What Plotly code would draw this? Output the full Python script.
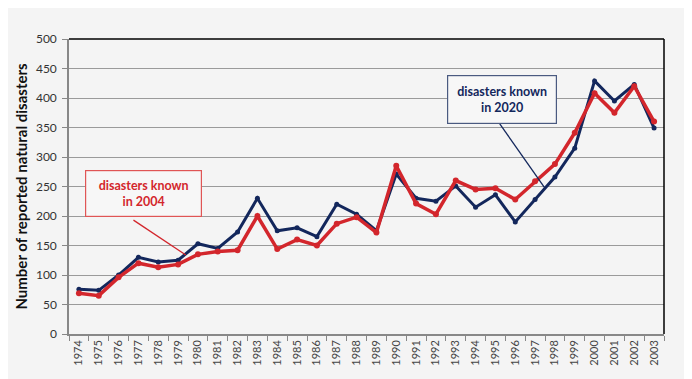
import plotly.graph_objects as go

years = [str(y) for y in range(1974, 2004)]
known_2020 = [76, 74, 100, 130, 122, 125, 153, 145, 173, 230, 175, 180, 165, 220, 203, 175,
              271, 230, 225, 251, 215, 236, 190, 228, 266, 315, 429, 395, 423, 349]
known_2004 = [69, 65, 96, 120, 113, 118, 135, 140, 142, 200, 144, 160, 150, 187, 198, 172,
              285, 221, 203, 260, 245, 247, 228, 259, 288, 341, 408, 375, 420, 360]
y_ticks = list(range(0, 501, 50))

navy = "#13275c"
red = "#d3262c"
font = "Lato"

fig = go.Figure()
fig.add_trace(go.Scatter(x=years, y=known_2020, mode="lines+markers",
                         line=dict(color=navy, width=3),
                         marker=dict(color=navy, size=5), name="disasters known in 2020"))
fig.add_trace(go.Scatter(x=years, y=known_2004, mode="lines+markers",
                         line=dict(color=red, width=3.5),
                         marker=dict(color=red, size=6), name="disasters known in 2004"))

# callout boxes
fig.add_annotation(x=3.26, y=238, xref="x", yref="y", showarrow=False,
                   text="<b>disasters known<br>in 2004</b>",
                   font=dict(family=font, size=12.5, color=red),
                   bordercolor="#e05555", borderwidth=1.2, bgcolor="#f7f7f7",
                   width=111, height=41, borderpad=2)
fig.add_annotation(x=21.32, y=397, xref="x", yref="y", showarrow=False,
                   text="<b>disasters known<br>in 2020</b>",
                   font=dict(family=font, size=12.5, color=navy),
                   bordercolor="#4a5a80", borderwidth=1.2, bgcolor="#f7f7f7",
                   width=104, height=43, borderpad=2)
# callout pointer lines
fig.add_shape(type="line", xref="x", yref="y", x0=2.75, y0=193, x1=5.39, y1=134,
              line=dict(color=red, width=1.3), layer="above")
fig.add_shape(type="line", xref="x", yref="y", x0=21.22, y0=356, x1=23.46, y1=249,
              line=dict(color=navy, width=1.3), layer="above")
# top/right black frame
fig.add_shape(type="line", xref="paper", yref="paper", x0=0, y0=1, x1=1, y1=1,
              line=dict(color="black", width=1.5))
fig.add_shape(type="line", xref="paper", yref="paper", x0=1, y0=0, x1=1, y1=1,
              line=dict(color="black", width=1.5))

fig.update_layout(
    width=692, height=379,
    margin=dict(l=55, r=36, t=31, b=53),
    paper_bgcolor="#f4f4f4", plot_bgcolor="#f4f4f4",
    showlegend=False,
    font=dict(family=font, color="#333333"),
)
fig.update_xaxes(type="category", tickangle=-90, tickfont=dict(size=11, color="#444"),
                 showgrid=False, showline=True, linecolor="#888", linewidth=1.5,
                 ticks="outside", ticklen=5, tickcolor="#888", tickson="boundaries",
                 range=[-0.5, 29.5])
fig.update_yaxes(range=[0, 500], tickvals=y_ticks, tickfont=dict(size=12, color="#333"),
                 showgrid=True, gridcolor="#9a9a9a", gridwidth=1,
                 showline=True, linecolor="#888", linewidth=1.5,
                 ticks="outside", ticklen=5, tickcolor="#888", zeroline=False,
                 ticklabelstandoff=3,
                 title=dict(text="<b>Number of reported natural disasters</b>",
                            font=dict(family=font, size=15, color="#111"), standoff=5))

fig.write_html("out.html")
